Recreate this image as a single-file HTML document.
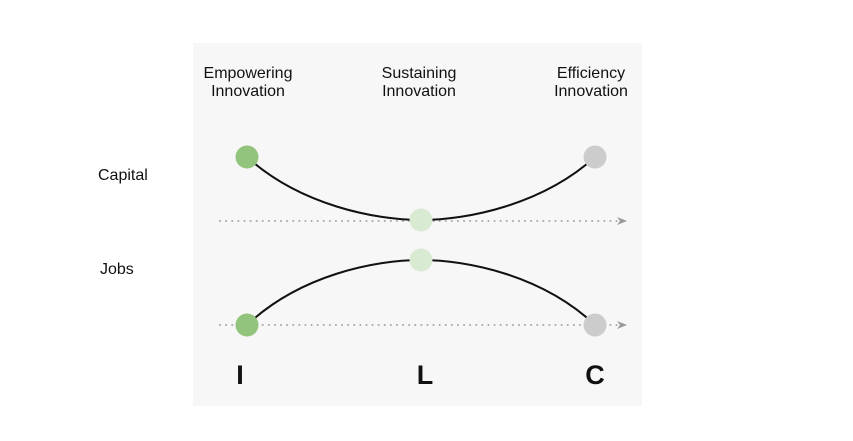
<!DOCTYPE html>
<html><head><meta charset="utf-8"><style>
html,body{margin:0;padding:0;background:#fff;width:853px;height:441px;overflow:hidden}
svg{display:block}
text{font-family:"Liberation Sans",sans-serif;fill:#111}
</style></head><body>
<svg width="853" height="441" viewBox="0 0 853 441">
<rect x="193" y="43" width="449" height="363" fill="#f7f7f7"/>
<g font-size="16" text-anchor="middle">
<text x="248" y="78">Empowering</text><text x="248" y="96">Innovation</text>
<text x="419" y="78">Sustaining</text><text x="419" y="96">Innovation</text>
<text x="591" y="78">Efficiency</text><text x="591" y="96">Innovation</text>
</g>
<text x="98" y="180" font-size="16">Capital</text>
<text x="100" y="274" font-size="16">Jobs</text>
<g stroke="#aaa" stroke-width="2" stroke-dasharray="0.1 6" stroke-linecap="round" fill="none">
<line x1="220" y1="221" x2="618" y2="221"/>
<line x1="220" y1="325" x2="618" y2="325"/>
</g>
<path d="M617,217 L627,221 L617,225 L620,221Z" fill="#999"/>
<path d="M617,321 L627,325 L617,329 L620,325Z" fill="#999"/>
<g stroke="#111" stroke-width="2" fill="none">
<path d="M247,157 C300,205 375,220 421,220 C467,220 542,205 595,157"/>
<path d="M247,325 C300,275 375,260 421,260 C467,260 542,275 595,325"/>
</g>
<circle cx="247" cy="157" r="11.5" fill="#93c47d"/>
<circle cx="595" cy="157" r="11.5" fill="#cccccc"/>
<circle cx="421" cy="220" r="11.5" fill="#d9ead3"/>
<circle cx="421" cy="260" r="11.5" fill="#d9ead3"/>
<circle cx="247" cy="325" r="11.5" fill="#93c47d"/>
<circle cx="595" cy="325" r="11.5" fill="#cccccc"/>
<g font-size="27" font-weight="bold" text-anchor="middle">
<text x="240" y="384">I</text><text x="425" y="384">L</text><text x="595" y="384">C</text>
</g>
</svg>
</body></html>
